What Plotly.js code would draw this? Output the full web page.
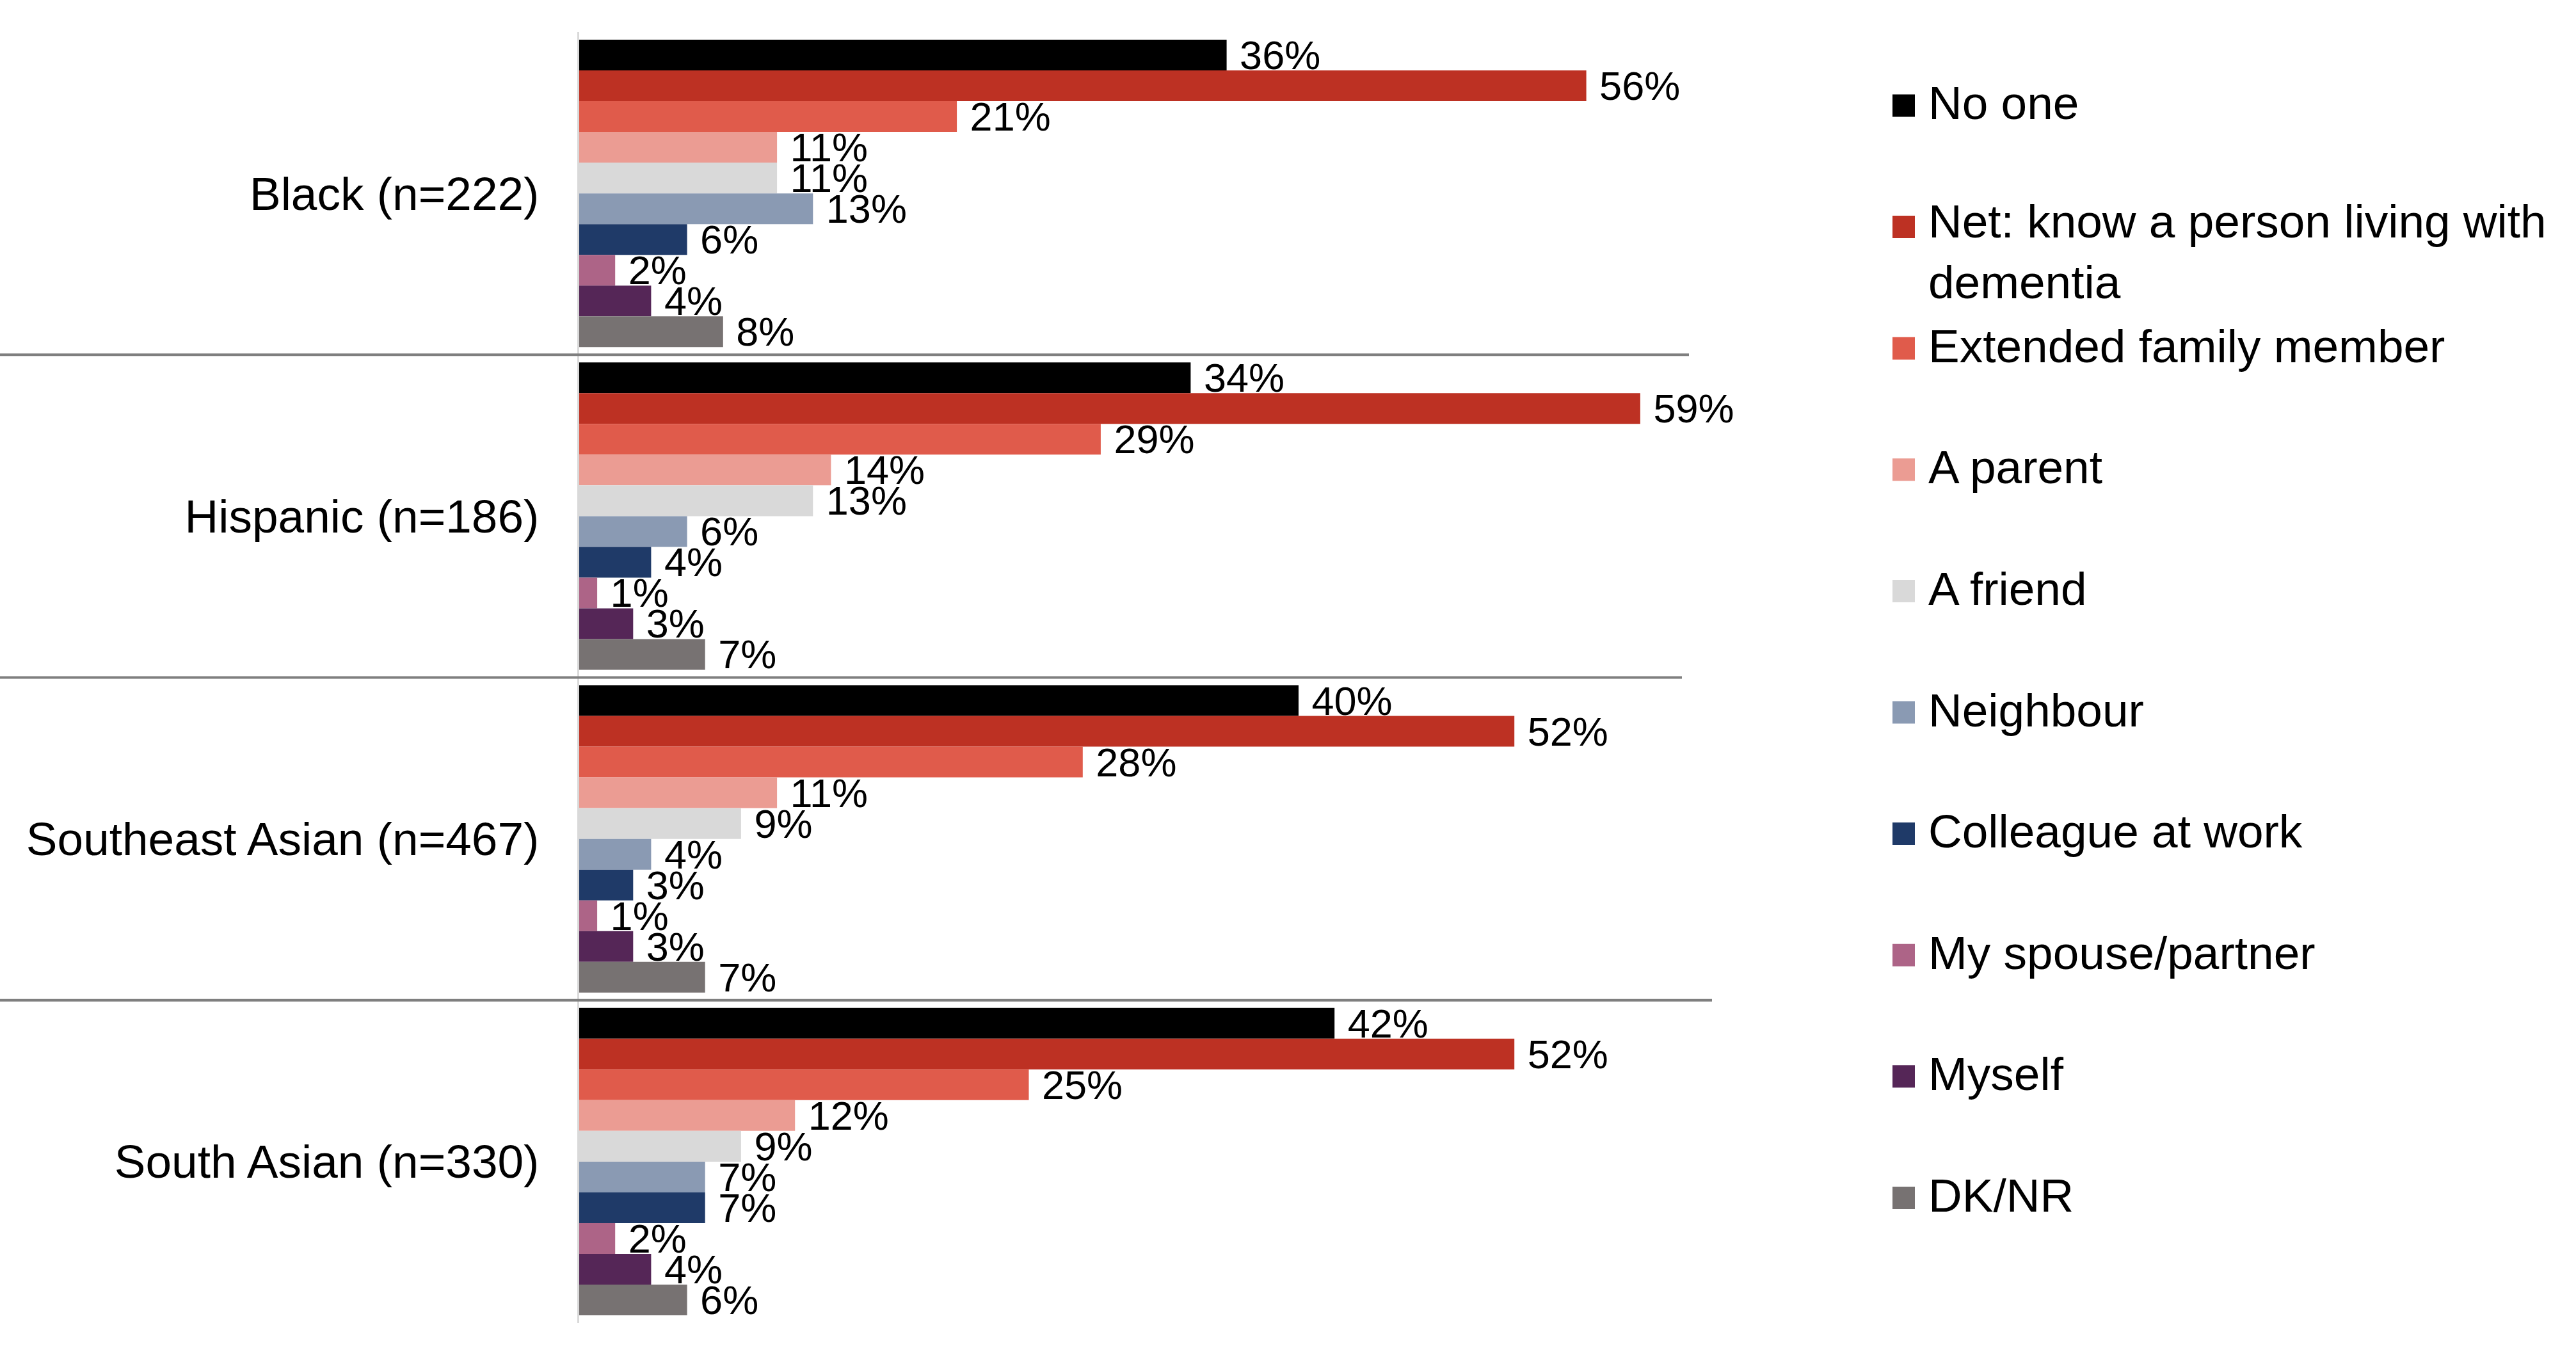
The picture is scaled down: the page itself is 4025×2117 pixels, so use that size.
<!DOCTYPE html>
<html>
<head>
<meta charset="utf-8">
<script src="https://cdn.plot.ly/plotly-3.0.1.min.js"></script>
<style>
html, body { margin: 0; padding: 0; background: #ffffff; }
#chart { width: 4025px; height: 2117px; }
</style>
</head>
<body>
<div id="chart"></div>
<script>
// ---- data ----
const groups = ['Black (n=222)', 'Hispanic (n=186)', 'Southeast Asian (n=467)', 'South Asian (n=330)'];

const noOne          = [36, 34, 40, 42];
const netKnow        = [56, 59, 52, 52];
const extendedFamily = [21, 29, 28, 25];
const aParent        = [11, 14, 11, 12];
const aFriend        = [11, 13, 9, 9];
const neighbour      = [13, 6, 4, 7];
const colleague      = [6, 4, 3, 7];
const spouse         = [2, 1, 1, 2];
const myself         = [4, 3, 3, 4];
const dkNr           = [8, 7, 7, 6];

const seriesNames = ['No one', 'Net: know a person living with dementia', 'Extended family member',
  'A parent', 'A friend', 'Neighbour', 'Colleague at work', 'My spouse/partner', 'Myself', 'DK/NR'];
const legendLabels = ['No one', 'Net: know a person living with<br>dementia', 'Extended family member',
  'A parent', 'A friend', 'Neighbour', 'Colleague at work', 'My spouse/partner', 'Myself', 'DK/NR'];
const seriesValues = [noOne, netKnow, extendedFamily, aParent, aFriend, neighbour, colleague, spouse, myself, dkNr];

// ---- styles ----
const seriesColors = ['#000000', '#BD3123', '#E05B4B', '#EB9C93', '#D9D9D9',
  '#8A9AB3', '#1F3A68', '#AD6487', '#552657', '#777272'];
const FONT = 'Liberation Sans, Arial, Helvetica, sans-serif';

const W = 4025, H = 2117;
const PL = 905, PR = 2591, PT = 50, PB = 2067;
const px2x = p => (p - PL) / (PR - PL);
const px2y = p => (PB - p) / (PB - PT);

const traces = seriesNames.map((name, i) => ({
  type: 'bar',
  orientation: 'h',
  name: name,
  y: groups,
  x: seriesValues[i],
  marker: { color: seriesColors[i], line: { width: 0 } },
  texttemplate: '\u00a0%{x}%',
  textposition: 'outside',
  constraintext: 'none',
  cliponaxis: false,
  textfont: { family: FONT, size: 63, color: '#000000' },
  showlegend: false,
  hoverinfo: 'skip'
}));

// separators between groups
const sepEnds = [2639, 2628, 2675];
const shapes = sepEnds.map((e, k) => ({
  type: 'line', xref: 'paper', yref: 'y',
  x0: px2x(0), x1: px2x(e), y0: k + 0.5, y1: k + 0.5,
  line: { color: '#7F7F7F', width: 4 }
}));

// legend (drawn with shapes + annotations for large square keys)
const annotations = [];
const legTop = 165, legPitch = 189.6, symL = 2957, symS = 35, txtL = 3011;
legendLabels.forEach((lab, i) => {
  const c = legTop + i * legPitch;
  shapes.push({
    type: 'rect', xref: 'paper', yref: 'paper',
    x0: px2x(symL), x1: px2x(symL + symS), y0: px2y(c - symS / 2), y1: px2y(c + symS / 2),
    fillcolor: seriesColors[i], line: { width: 0 }
  });
  const multi = lab.indexOf('<br>') >= 0;
  annotations.push({
    xref: 'paper', yref: 'paper', x: px2x(txtL),
    y: multi ? px2y(c - 4 - 26 - 14 - 8) : px2y(c - 4),
    xanchor: 'left', yanchor: multi ? 'top' : 'middle', align: 'left',
    showarrow: false, text: lab,
    font: { family: FONT, size: 73, color: '#000000' }
  });
});

const layout = {
  width: W, height: H,
  margin: { l: PL, r: W - PR, t: PT, b: H - PB, pad: 0 },
  paper_bgcolor: '#ffffff', plot_bgcolor: '#ffffff',
  barmode: 'group',
  bargap: 0.048,
  bargroupgap: 0,
  showlegend: false,
  font: { family: FONT, color: '#000000' },
  xaxis: { range: [0, 60], visible: false, fixedrange: true },
  yaxis: {
    type: 'category',
    autorange: 'reversed',
    showline: true, linecolor: '#D9D9D9', linewidth: 3,
    showgrid: false, zeroline: false,
    ticks: '', ticklabelstandoff: 45,
    tickfont: { family: FONT, size: 73, color: '#000000' },
    fixedrange: true
  },
  shapes: shapes,
  annotations: annotations
};

Plotly.newPlot('chart', traces, layout, { staticPlot: true, displayModeBar: false });
</script>
</body>
</html>
